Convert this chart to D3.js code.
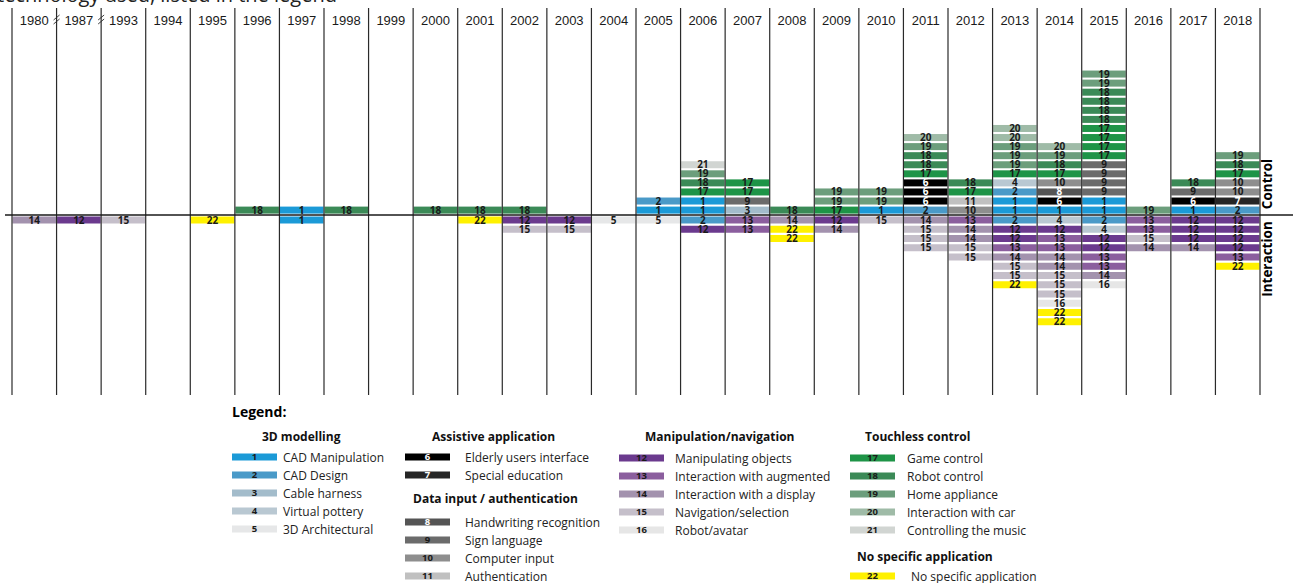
<!DOCTYPE html>
<html>
<head>
<meta charset="utf-8">
<script src="https://cdn.jsdelivr.net/npm/d3@7"></script>
<style>
  body { margin: 0; background: #fff; }
  svg { display: block; font-family: "Open Sans", "Noto Sans", sans-serif; }
</style>
</head>
<body>
<div id="chart"></div>
<script>
// years shown as columns
const years = ["1980", "1987", "1993", "1994", "1995", "1996", "1997", "1998", "1999", "2000",
  "2001", "2002", "2003", "2004", "2005", "2006", "2007", "2008", "2009", "2010",
  "2011", "2012", "2013", "2014", "2015", "2016", "2017", "2018"];

// control side, listed from the baseline upwards
const control = [
  [], [], [], [], [], [18], [1], [18], [], [18],
  [18], [18], [], [], [1, 2], [1, 1, 17, 18, 19, 21], [3, 9, 17, 17], [18], [17, 19, 19], [1, 19, 19],
  [2, 6, 6, 6, 17, 18, 18, 19, 20], [10, 11, 17, 18], [1, 1, 2, 4, 17, 19, 19, 19, 20, 20],
  [1, 6, 8, 10, 17, 18, 19, 20], [1, 1, 9, 9, 9, 9, 17, 17, 17, 17, 18, 18, 18, 18, 19, 19],
  [19], [1, 6, 9, 18], [2, 7, 10, 10, 17, 18, 19]
];

// interaction side, listed from the baseline downwards
const interaction = [
  [14], [12], [15], [], [22], [], [1], [], [], [],
  [22], [12, 15], [12, 15], [5], [5], [2, 12], [13, 13], [14, 22, 22], [12, 14], [15],
  [14, 15, 15, 15], [13, 14, 14, 15, 15], [2, 12, 12, 13, 14, 15, 15, 22],
  [4, 12, 13, 13, 14, 14, 15, 15, 15, 16, 22, 22], [2, 4, 12, 12, 13, 13, 14, 16],
  [13, 13, 15, 14], [12, 12, 12, 14], [12, 12, 12, 12, 13, 22]
];

// legend
const techIds = d3.range(1, 23);
const techNames = ["CAD Manipulation", "CAD Design", "Cable harness", "Virtual pottery", "3D Architectural",
  "Elderly users interface", "Special education",
  "Handwriting recognition", "Sign language", "Computer input", "Authentication",
  "Manipulating objects", "Interaction with augmented", "Interaction with a display", "Navigation/selection", "Robot/avatar",
  "Game control", "Robot control", "Home appliance", "Interaction with car", "Controlling the music",
  "No specific application"];
const groupTitles = ["3D modelling", "Assistive application", "Data input / authentication",
  "Manipulation/navigation", "Touchless control", "No specific application"];
const groupIds = [[1, 2, 3, 4, 5], [6, 7], [8, 9, 10, 11], [12, 13, 14, 15, 16], [17, 18, 19, 20, 21], [22]];

const W = 1293, H = 583;
const svg = d3.select("#chart").append("svg").attr("width", W).attr("height", H);

const color = d3.scaleOrdinal().domain(techIds).range([
  "#1b9ad7", "#4a9ac8", "#a3bccb", "#b9c8d2", "#e6e7e8",
  "#000000", "#262626", "#555555", "#6b6b6b", "#8e8e8e", "#c0c0c0",
  "#6b3a8e", "#8b5e9e", "#a392ae", "#c5bfca", "#e6e6e6",
  "#1e9447", "#3b8a57", "#6c9e7c", "#9fbba7", "#d1d5d2",
  "#fff100"]);
const textColor = id => (id >= 6 && id <= 8) ? "#fff" : "#1a1a1a";

// cut off title at the very top
svg.append("text").attr("x", -3).attr("y", 2)
  .attr("font-size", 20).attr("fill", "#222")
  .text("technology used, listed in the legend");

const x = d3.scaleBand().domain(years).range([12, 1260]);
const baseY = 215;
const cellH = 7;
const yUp = d3.scaleLinear().domain([0, 16]).range([baseY - 1.4, baseY - 1.4 - 16 * 9.07]);
const yDown = d3.scaleLinear().domain([0, 12]).range([baseY + 1.5, baseY + 1.5 + 12 * 9.25]);

// flatten the stacks into cells
const cells = [];
years.forEach((yr, i) => {
  control[i].forEach((id, k) => cells.push({ year: yr, id: id, y: yUp(k) - cellH }));
  interaction[i].forEach((id, k) => cells.push({ year: yr, id: id, y: yDown(k) }));
});

const cell = svg.append("g").selectAll("g").data(cells).enter().append("g");
cell.append("rect")
  .attr("x", d => x(d.year) + 0.5)
  .attr("y", d => d.y)
  .attr("width", x.bandwidth() - 1)
  .attr("height", cellH)
  .attr("fill", d => color(d.id));
cell.append("text")
  .attr("x", d => x(d.year) + x.bandwidth() / 2)
  .attr("y", d => d.y + cellH / 2 + 3.5)
  .attr("text-anchor", "middle")
  .attr("font-size", 10).attr("font-weight", 700)
  .attr("fill", d => textColor(d.id))
  .text(d => d.id);

// column separators
const lines = svg.append("g").attr("stroke", "#2a2a2a").attr("stroke-width", 1.2);
const edges = years.map(y => x(y)).concat([x.range()[1]]);
lines.selectAll("line").data(edges).enter().append("line")
  .attr("x1", d => d).attr("x2", d => d)
  .attr("y1", 8).attr("y2", 395);

// break marks between 1980, 1987 and 1993
[x("1987"), x("1993")].forEach(bx => {
  [-2, 2].forEach(o => {
    lines.append("line")
      .attr("x1", bx - 3).attr("y1", 22 + o)
      .attr("x2", bx + 3).attr("y2", 17 + o)
      .attr("stroke-width", 0.9);
  });
});

// baseline
svg.append("line").attr("x1", 5).attr("x2", W).attr("y1", baseY).attr("y2", baseY)
  .attr("stroke", "#1a1a1a").attr("stroke-width", 1.5);

// year labels
svg.append("g").selectAll("text").data(years).enter().append("text")
  .attr("x", d => x(d) + x.bandwidth() / 2)
  .attr("y", 25)
  .attr("text-anchor", "middle")
  .attr("font-family", "'Liberation Sans Narrow', 'Arial Narrow', sans-serif")
  .attr("font-size", 13).attr("fill", "#1a1a1a")
  .text(d => d);

// side labels
svg.append("text").attr("transform", "translate(1272,184) rotate(-90)")
  .attr("text-anchor", "middle").attr("font-size", 13.5).attr("font-weight", 700)
  .text("Control");
svg.append("text").attr("transform", "translate(1272,259) rotate(-90)")
  .attr("text-anchor", "middle").attr("font-size", 13.5).attr("font-weight", 700)
  .text("Interaction");

// legend
svg.append("text").attr("x", 232).attr("y", 417)
  .attr("font-size", 14).attr("font-weight", 700).text("Legend:");

const groupPos = [
  { tx: 262, ty: 441, sx: 232, sy: 457 },
  { tx: 432, ty: 441, sx: 405, sy: 457 },
  { tx: 413, ty: 503, sx: 405, sy: 522 },
  { tx: 645, ty: 441, sx: 619, sy: 458 },
  { tx: 865, ty: 441, sx: 850, sy: 458 },
  { tx: 857, ty: 561, sx: 850, sy: 576 }
];
const labelGap = [51, 60, 60, 56, 57, 61];

groupTitles.forEach((t, g) => {
  const p = groupPos[g];
  const lg = svg.append("g");
  lg.append("text").attr("x", p.tx).attr("y", p.ty)
    .attr("font-size", 12).attr("font-weight", 700).attr("fill", "#111").text(t);
  const item = lg.selectAll("g").data(groupIds[g]).enter().append("g")
    .attr("transform", (d, i) => `translate(${p.sx},${p.sy + i * 18})`);
  item.append("rect").attr("x", 0).attr("y", -3.5).attr("width", 45).attr("height", 7)
    .attr("fill", d => color(d));
  item.append("text").attr("x", 22.5).attr("y", 3.3)
    .attr("text-anchor", "middle").attr("font-size", 9.5).attr("font-weight", 700)
    .attr("fill", d => textColor(d)).text(d => d);
  item.append("text").attr("x", labelGap[g]).attr("y", 4.5)
    .attr("font-size", 12).attr("fill", "#222")
    .text(d => techNames[d - 1]);
});
</script>
</body>
</html>
